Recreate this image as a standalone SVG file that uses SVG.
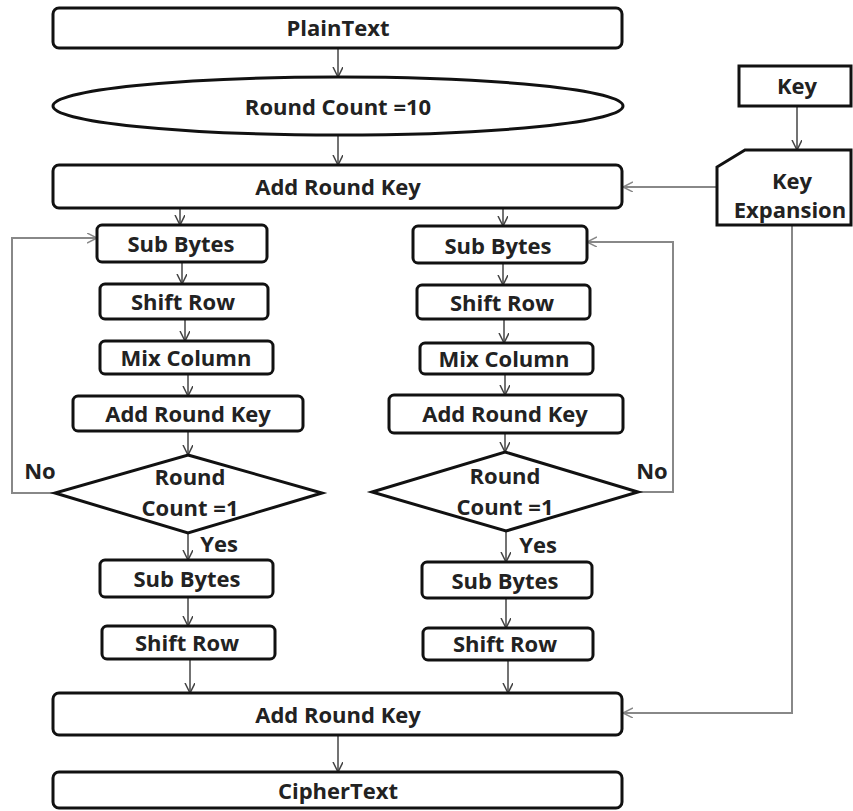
<svg xmlns="http://www.w3.org/2000/svg" width="853" height="811" viewBox="0 0 853 811">
<style>
.box{fill:#fff;stroke:#111;stroke-width:3}
.t{font-family:"Open Sans","DejaVu Sans",sans-serif;font-weight:bold;font-size:22px;fill:#222;text-anchor:middle}
.c{fill:none;stroke:#444;stroke-width:1.5}
.g{fill:none;stroke:#888;stroke-width:2}
</style>
<defs>
<marker id="a" markerUnits="userSpaceOnUse" markerWidth="12" markerHeight="12" refX="10" refY="5" orient="auto">
<path d="M0,0 L10,5 L0,10" fill="none" stroke="#444" stroke-width="1.5"/>
</marker>
<marker id="ag" markerUnits="userSpaceOnUse" markerWidth="12" markerHeight="12" refX="10" refY="5" orient="auto">
<path d="M0,0 L10,5 L0,10" fill="none" stroke="#888" stroke-width="1.5"/>
</marker>
</defs>
<rect width="853" height="811" fill="#fff"/>
<g id="connectors">
<path class="c" d="M338,48 V77" marker-end="url(#a)"/>
<path class="c" d="M338,136 V165" marker-end="url(#a)"/>
<path class="c" d="M797,106 V150" marker-end="url(#a)"/>
<path class="g" d="M717,187 H623" marker-end="url(#ag)"/>
<path class="g" d="M792,225 V713 H623" marker-end="url(#ag)"/>
<path class="c" d="M180,208 V225" marker-end="url(#a)"/>
<path class="c" d="M182,262 V284" marker-end="url(#a)"/>
<path class="c" d="M185,319 V341" marker-end="url(#a)"/>
<path class="c" d="M188,374 V396" marker-end="url(#a)"/>
<path class="c" d="M188,431 V455" marker-end="url(#a)"/>
<path class="g" d="M55,493 H12 V238 H97" marker-end="url(#ag)"/>
<path class="c" d="M188,533 V560" marker-end="url(#a)"/>
<path class="c" d="M188,597 V626" marker-end="url(#a)"/>
<path class="c" d="M190,659 V693" marker-end="url(#a)"/>
<path class="c" d="M503,208 V226" marker-end="url(#a)"/>
<path class="c" d="M503,263 V285" marker-end="url(#a)"/>
<path class="c" d="M504,319 V343" marker-end="url(#a)"/>
<path class="c" d="M505,374 V395" marker-end="url(#a)"/>
<path class="c" d="M505,433 V452" marker-end="url(#a)"/>
<path class="g" d="M638,492 H673 V242 H587" marker-end="url(#ag)"/>
<path class="c" d="M506,531 V562" marker-end="url(#a)"/>
<path class="c" d="M506,598 V628" marker-end="url(#a)"/>
<path class="c" d="M508,660 V693" marker-end="url(#a)"/>
<path class="c" d="M338,735 V772" marker-end="url(#a)"/>
</g>
<g id="plaintext"><rect class="box" x="53" y="8" width="569" height="40" rx="6"/><text class="t" x="338" y="36">PlainText</text></g>
<g id="roundcount"><ellipse class="box" cx="338" cy="106" rx="285" ry="29"/><text class="t" x="338" y="115">Round Count =10</text></g>
<g id="ark-top"><rect class="box" x="53" y="165" width="569" height="43" rx="6"/><text class="t" x="338" y="195">Add Round Key</text></g>
<g id="key"><rect class="box" x="739" y="66" width="112" height="40"/><text class="t" x="797" y="94">Key</text></g>
<g id="keyexp"><path class="box" d="M745,150 H851 V225 H717 V167 Z"/><text class="t" x="792" y="189">Key</text><text class="t" x="790" y="218">Expansion</text></g>
<g id="l-sub"><rect class="box" x="97" y="225" width="170" height="37" rx="5"/><text class="t" x="181" y="252">Sub Bytes</text></g>
<g id="l-shift"><rect class="box" x="100" y="284" width="168" height="35" rx="5"/><text class="t" x="183" y="310">Shift Row</text></g>
<g id="l-mix"><rect class="box" x="100" y="341" width="173" height="33" rx="5"/><text class="t" x="186" y="366">Mix Column</text></g>
<g id="l-ark"><rect class="box" x="73" y="396" width="230" height="35" rx="5"/><text class="t" x="188" y="422">Add Round Key</text></g>
<g id="l-dec"><path class="box" d="M188,455 L322,493 L188,533 L55,493 Z"/><text class="t" x="190" y="485">Round</text><text class="t" x="190" y="516">Count =1</text></g>
<g id="l-sub2"><rect class="box" x="100" y="560" width="173" height="37" rx="5"/><text class="t" x="187" y="587">Sub Bytes</text></g>
<g id="l-shift2"><rect class="box" x="102" y="626" width="173" height="33" rx="5"/><text class="t" x="187" y="651">Shift Row</text></g>
<g id="r-sub"><rect class="box" x="413" y="226" width="174" height="37" rx="5"/><text class="t" x="498" y="254">Sub Bytes</text></g>
<g id="r-shift"><rect class="box" x="417" y="285" width="173" height="34" rx="5"/><text class="t" x="502" y="311">Shift Row</text></g>
<g id="r-mix"><rect class="box" x="420" y="343" width="173" height="31" rx="5"/><text class="t" x="504" y="367">Mix Column</text></g>
<g id="r-ark"><rect class="box" x="389" y="395" width="234" height="38" rx="5"/><text class="t" x="505" y="422">Add Round Key</text></g>
<g id="r-dec"><path class="box" d="M505,452 L638,492 L506,531 L372,492 Z"/><text class="t" x="505" y="484">Round</text><text class="t" x="505" y="515">Count =1</text></g>
<g id="r-sub2"><rect class="box" x="422" y="562" width="170" height="36" rx="5"/><text class="t" x="505" y="589">Sub Bytes</text></g>
<g id="r-shift2"><rect class="box" x="423" y="628" width="170" height="32" rx="5"/><text class="t" x="505" y="652">Shift Row</text></g>
<g id="ark-bot"><rect class="box" x="53" y="693" width="569" height="42" rx="6"/><text class="t" x="338" y="723">Add Round Key</text></g>
<g id="ciphertext"><rect class="box" x="53" y="772" width="569" height="36" rx="6"/><text class="t" x="338" y="799">CipherText</text></g>
<g id="labels">
<text class="t" x="40" y="479">No</text>
<text class="t" x="652" y="479">No</text>
<text class="t" x="219" y="552">Yes</text>
<text class="t" x="538" y="553">Yes</text>
</g>
</svg>
